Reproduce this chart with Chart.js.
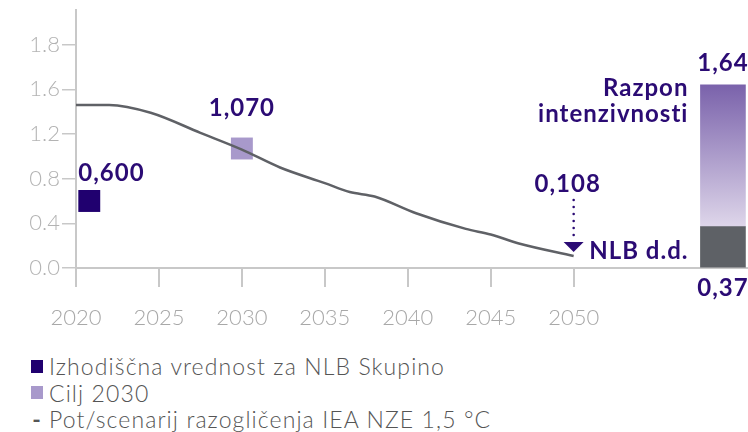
<!DOCTYPE html>
<html>
<head>
<meta charset="utf-8">
<title>Intenzivnost emisij NLB</title>
<script src="https://cdn.jsdelivr.net/npm/chart.js"></script>
<style>
    body { margin: 0; background: #fff; font-family: Lato, sans-serif; }
    .wrap { position: relative; width: 748px; height: 432px; overflow: hidden; }
    #chart { position: absolute; left: 0; top: 0; }
    .legend {
        position: absolute; left: 31px; top: 353px;
        font-size: 23px; font-weight: 300; color: #555; line-height: 26.5px;
        letter-spacing: 1.1px;
    }
    .legend div { display: flex; align-items: center; white-space: nowrap; }
    .sw { display: inline-block; width: 12px; height: 13px; margin-right: 6px; }
    .dash { display: inline-block; width: 12px; margin-right: 6px; font-weight: 700; text-align: center; }
</style>
</head>
<body>
<div class="wrap">
    <canvas id="chart" width="748" height="340"></canvas>
    <div class="legend">
        <div><span class="sw" style="background:#20006f"></span>Izhodiščna vrednost za NLB Skupino</div>
        <div><span class="sw" style="background:#a899cb"></span>Cilj 2030</div>
        <div><span class="dash">-</span>Pot/scenarij razogličenja IEA NZE 1,5 °C</div>
    </div>
</div>
<script>
    // IEA NZE path
    const pathYears = [2020, 2022, 2024.5, 2027.5, 2030, 2032.3, 2035, 2036.5, 2038, 2040.5, 2043.5, 2045, 2046.7, 2050];
    const pathValues = [1.46, 1.46, 1.39, 1.21, 1.06, 0.90, 0.76, 0.68, 0.64, 0.49, 0.35, 0.30, 0.22, 0.108];

    const baseYear = 2020.8;
    const baseValue = 0.600;
    const targetYear = 2030;
    const targetValue = 1.070;

    // intensity range bar on the right
    const rangeYear = 2059;
    const rangeLow = 0.37;
    const rangeHigh = 1.64;

    const xTicks = [2020, 2025, 2030, 2035, 2040, 2045, 2050];
    const yTicks = [0, 0.4, 0.8, 1.2, 1.6, 2.0];
    const yTickLabels = ['0.0', '0.4', '0.8', '1.2', '1.6', '1.8'];

    const ink = '#2b0b74';
    const axisGrey = '#c8c8c8';

    const labelsPlugin = {
        id: 'labels',
        afterDatasetsDraw(chart) {
            const {ctx, chartArea, scales: {x, y}} = chart;
            ctx.save();
            ctx.fillStyle = ink;
            ctx.font = '700 24px Lato';
            ctx.letterSpacing = '1px';
            ctx.textBaseline = 'middle';

            // baseline and target labels
            let px = x.getPixelForValue(baseYear), py = y.getPixelForValue(baseValue);
            ctx.textAlign = 'left';
            ctx.fillText('0,600', px - 11, py - 28);

            px = x.getPixelForValue(targetYear);
            py = y.getPixelForValue(targetValue);
            ctx.textAlign = 'center';
            ctx.fillText('1,070', px, py - 40);

            // 2050 arrow
            px = x.getPixelForValue(2050);
            py = y.getPixelForValue(pathValues[pathValues.length - 1]);
            ctx.beginPath();
            ctx.moveTo(px - 10, py - 14);
            ctx.lineTo(px + 10, py - 14);
            ctx.lineTo(px, py - 4);
            ctx.closePath();
            ctx.fill();
            for (let d = py - 56; d < py - 16; d += 7) {
                ctx.beginPath();
                ctx.arc(px, d, 1.3, 0, Math.PI * 2);
                ctx.fill();
            }
            ctx.fillText('0,108', px - 6, py - 72);

            // range bar labels
            const bx = x.getPixelForValue(rangeYear);
            const barLeft = bx - 22.5;
            ctx.textAlign = 'center';
            ctx.fillText('1,64', bx, y.getPixelForValue(rangeHigh) - 22);
            ctx.fillText('0,37', bx, chartArea.bottom + 20);
            ctx.textAlign = 'right';
            ctx.fillText('Razpon', barLeft - 12, y.getPixelForValue(rangeHigh) + 3);
            ctx.fillText('intenzivnosti', barLeft - 12, y.getPixelForValue(rangeHigh) + 29);
            ctx.fillText('NLB d.d.', barLeft - 12, chartArea.bottom - 17);
            ctx.restore();
        }
    };

    function rangeGradient(context) {
        const {chart} = context;
        const {ctx, chartArea, scales} = chart;
        if (!chartArea) return '#9a88c2';
        const g = ctx.createLinearGradient(0, scales.y.getPixelForValue(rangeHigh), 0, scales.y.getPixelForValue(rangeLow));
        g.addColorStop(0, '#7a62ab');
        g.addColorStop(1, '#ded6ea');
        return g;
    }

    new Chart(document.getElementById('chart'), {
        type: 'line',
        data: {
            datasets: [
                {
                    type: 'line',
                    data: pathYears.map((v, i) => ({x: v, y: pathValues[i]})),
                    borderColor: '#5f6166',
                    borderWidth: 2.5,
                    pointRadius: 0,
                    cubicInterpolationMode: 'monotone'
                },
                {
                    type: 'scatter',
                    data: [{x: baseYear, y: baseValue}],
                    pointStyle: 'rect',
                    pointRadius: 15.5,
                    backgroundColor: '#20006f',
                    borderWidth: 0
                },
                {
                    type: 'scatter',
                    data: [{x: targetYear, y: targetValue}],
                    pointStyle: 'rect',
                    pointRadius: 15.5,
                    backgroundColor: '#a899cb',
                    borderWidth: 0
                },
                {
                    type: 'bar',
                    data: [{x: rangeYear, y: [0, rangeLow]}],
                    backgroundColor: '#5e6166',
                    barThickness: 45,
                    grouped: false
                },
                {
                    type: 'bar',
                    data: [{x: rangeYear, y: [rangeLow, rangeHigh]}],
                    backgroundColor: rangeGradient,
                    barThickness: 45,
                    grouped: false
                }
            ]
        },
        options: {
            responsive: false,
            animation: false,
            layout: { autoPadding: false, padding: {top: 10, right: 1, bottom: 0, left: 0} },
            plugins: {
                legend: { display: false },
                tooltip: { enabled: false }
            },
            scales: {
                x: {
                    type: 'linear',
                    min: 2020,
                    max: 2060.45,
                    offset: false,
                    afterBuildTicks: s => { s.ticks = xTicks.map(v => ({value: v})); },
                    afterFit: s => { s.height = 72; s.paddingLeft = 0; s.paddingRight = 0; },
                    grid: { drawOnChartArea: false, offset: false, tickLength: 19, color: axisGrey, lineWidth: 2 },
                    border: { color: axisGrey, width: 2 },
                    ticks: {
                        padding: 18,
                        color: '#a8a8a8',
                        font: { family: 'Lato', size: 22, weight: '300' },
                        maxRotation: 0,
                        callback: v => String(v)
                    }
                },
                y: {
                    min: 0,
                    max: 2.31,
                    afterBuildTicks: s => { s.ticks = yTicks.map(v => ({value: v})); },
                    afterFit: s => { s.width = 76; s.paddingTop = 0; s.paddingBottom = 0; },
                    grid: { drawOnChartArea: false, tickLength: 14, color: axisGrey, lineWidth: 1.5 },
                    border: { color: axisGrey, width: 2 },
                    ticks: {
                        padding: 2,
                        color: '#b3b3b3',
                        font: { family: 'Lato', size: 22, weight: '300' },
                        callback: (v, i) => yTickLabels[i]
                    }
                }
            }
        },
        plugins: [labelsPlugin]
    });
</script>
</body>
</html>
